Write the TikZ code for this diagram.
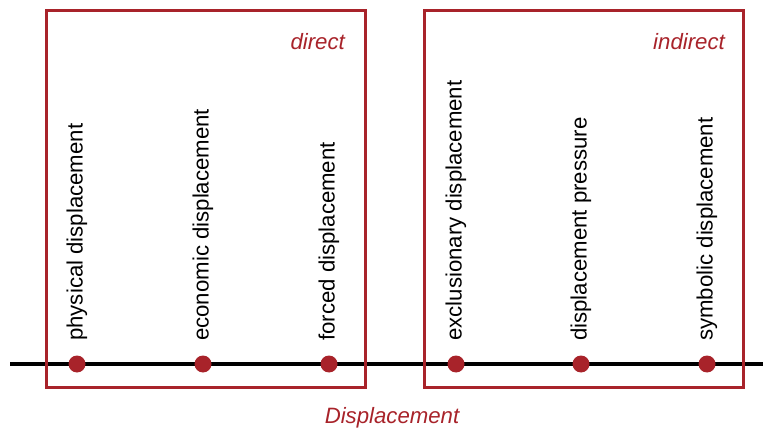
\documentclass[tikz,border=0pt]{standalone}
\usepackage{fontspec}
\setmainfont{Liberation Sans}
\definecolor{dred}{HTML}{A8232A}
\begin{document}
\begin{tikzpicture}[x=1pt,y=-1pt,
  grp/.style={draw=dred,line width=3pt},
  dot/.style={circle,fill=dred,inner sep=0pt,minimum size=17pt},
  lbl/.style={rotate=90,anchor=west,inner sep=0pt,font=\fontsize{22.2}{26}\selectfont},
  ital/.style={text=dred,inner sep=0pt,font=\fontsize{22.2}{26}\selectfont\itshape}]
\useasboundingbox (0,0) rectangle (763,430);
\coordinate (L0) at (10,364);
\coordinate (L1) at (763,364);
\draw[line width=3.2pt] (L0) -- (L1);
\draw[grp] (46,11) rectangle (365,387);
\draw[grp] (424,11) rectangle (743,387);
\node[ital,anchor=base east] (direct) at (345,50) {direct};
\node[ital,anchor=base east] (indirect) at (725,50) {indirect};
\node[ital,anchor=base] (disp) at (392,423) {Displacement};
\foreach \n/\x/\t in {a/77/physical displacement,b/203/economic displacement,c/329/forced displacement,d/456/exclusionary displacement,e/581/displacement pressure,f/707/symbolic displacement}{
  \node[dot] (d\n) at (\x,364) {};
  \node[lbl] (t\n) at (\x,341) {\t};
}
\end{tikzpicture}
\end{document}
